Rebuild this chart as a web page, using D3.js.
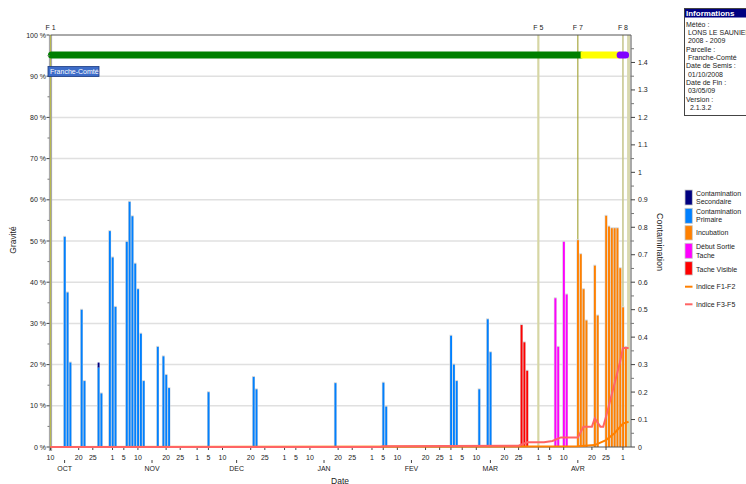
<!DOCTYPE html>
<html><head><meta charset="utf-8">
<script src="https://cdn.jsdelivr.net/npm/d3@7"></script>
<style>
body{margin:0;background:#fff}
svg{display:block;font-family:"Liberation Sans",Arial,sans-serif}
</style>
</head><body>
<svg id="c" width="746" height="484"></svg>
<script>
// ---------------- DATA ----------------
const stageNames = ["Contamination Secondaire","Contamination Primaire","Incubation","Début Sortie Tache","Tache Visible"];
const stageColors = ["#000080","#0080ff","#ff8000","#ff00ff","#ff0000"];

// daily severity bars (Gravité, %)
const barDates = [
  "2008-10-15","2008-10-16","2008-10-17","2008-10-21","2008-10-22","2008-10-27","2008-10-28",
  "2008-10-31","2008-11-01","2008-11-02","2008-11-06","2008-11-07","2008-11-08","2008-11-09",
  "2008-11-10","2008-11-11","2008-11-12","2008-11-17","2008-11-19","2008-11-20","2008-11-21",
  "2008-12-05","2008-12-21","2008-12-22","2009-01-19","2009-02-05","2009-02-06",
  "2009-03-01","2009-03-02","2009-03-03","2009-03-11","2009-03-14","2009-03-15",
  "2009-03-26","2009-03-27","2009-03-28",
  "2009-04-07","2009-04-08","2009-04-10","2009-04-11",
  "2009-04-15","2009-04-16","2009-04-17","2009-04-18","2009-04-21","2009-04-22",
  "2009-04-25","2009-04-26","2009-04-27","2009-04-28","2009-04-29","2009-04-30","2009-05-01","2009-05-02"
];
const barValues = [
  51,37.5,20.5,33.3,16,19.3,13,
  52.4,46,34,49.8,59.5,56,44.5,
  38.3,27.5,16,24.3,22,17.5,14.3,
  13.3,17,14,15.5,15.6,9.8,
  27,20,16,14,31,23,
  29.6,25.4,18.5,
  36.1,24.3,49.8,37,
  50.2,46.8,38.3,30.7,44,31.9,
  56.1,53.5,53.1,53.1,53.1,43.4,33.9,24.3
];
const barStages = [
  1,1,1,1,1,1,1,
  1,1,1,1,1,1,1,
  1,1,1,1,1,1,1,
  1,1,1,1,1,1,
  1,1,1,1,1,1,
  4,4,4,
  3,3,3,3,
  2,2,2,2,2,2,
  2,2,2,2,2,2,2,2
];
// secondary contamination stacked on top of primary
const secDates = ["2008-10-27"];
const secValues = [1.2];

// contamination indices (right axis)
const f12Dates  = ["2008-10-10","2009-03-25","2009-04-15","2009-04-21","2009-04-25","2009-04-28","2009-05-01","2009-05-03"];
const f12Values = [0,0.002,0.003,0.007,0.025,0.05,0.085,0.092];
const f35Dates  = ["2008-10-10","2009-02-04","2009-02-05","2009-03-25","2009-03-28","2009-04-03","2009-04-06","2009-04-09",
                   "2009-04-15","2009-04-17","2009-04-20","2009-04-21","2009-04-23","2009-04-24","2009-04-25","2009-04-26",
                   "2009-04-27","2009-04-28","2009-04-29","2009-04-30","2009-05-01","2009-05-03"];
const f35Values = [0,0,0.003,0.005,0.017,0.017,0.022,0.035,
                   0.035,0.074,0.074,0.104,0.074,0.074,0.11,0.15,
                   0.19,0.23,0.27,0.31,0.36,0.36];

// phase band
const phaseStarts = ["2008-10-10","2009-04-16","2009-04-30"];
const phaseEnds   = ["2009-04-16","2009-04-30","2009-05-03"];
const phaseColors = ["#008000","#ffff00","#8000ff"];

// stage markers
const fLabels = ["F 1","F 5","F 7","F 8",""];
const fDates  = ["2008-10-10","2009-04-01","2009-04-15","2009-05-01","2009-05-03"];
const fColors = ["#b8b850","#d6d6a4","#a8a840","#c8c890","#d8d8b0"];
const fWidths = [1,2.2,1.2,1.6,3];

// ticks
const leftTicks = [0,10,20,30,40,50,60,70,80,90,100];
const rightTicks = [0,0.1,0.2,0.3,0.4,0.5,0.6,0.7,0.8,0.9,1,1.1,1.2,1.3,1.4];
const tickDays = [1,5,10,20,25];
const monthLabels = ["OCT","NOV","DEC","JAN","FEV","MAR","AVR"];
const monthDates = ["2008-10-15","2008-11-15","2008-12-15","2009-01-15","2009-02-15","2009-03-15","2009-04-15"];

const infoLines = ["Météo :"," LONS LE SAUNIER"," 2008 - 2009","Parcelle :"," Franche-Comté","Date de Semis :"," 01/10/2008","Date de Fin :"," 03/05/09","Version :","  2.1.3.2"];
const legendLabels = [["Contamination","Secondaire"],["Contamination","Primaire"],["Incubation"],["Début Sortie","Tache"],["Tache Visible"],["Indice F1-F2"],["Indice F3-F5"]];
const lineColors = ["#ff8000","#ff6464"];
const parcelLabel = "Franche-Comté";

// ---------------- DRAW ----------------
const P = d3.utcParse("%Y-%m-%d");
const svg = d3.select("#c");
const L = 50.5, R = 631, T = 35, B = 447;
const x = d3.scaleUtc().domain([P("2008-10-10"), P("2009-05-04")]).range([L, 631.4]);
const y = d3.scaleLinear().domain([0,100]).range([B,T]);
const yR = d3.scaleLinear().domain([0,1.5]).range([B,T]);
const dayW = x(P("2008-10-11")) - x(P("2008-10-10"));
const ink = "#222";

// gridlines
svg.append("g").selectAll("line").data(leftTicks.filter(v=>v>0&&v<100)).join("line")
  .attr("x1",L).attr("x2",R).attr("y1",d=>y(d)).attr("y2",d=>y(d))
  .attr("stroke","#e0e0e0").attr("stroke-width",1.5);

// F marker lines
svg.append("g").selectAll("line").data(fDates.slice(1)).join("line")
  .attr("x1",d=>x(P(d))).attr("x2",d=>x(P(d))).attr("y1",T).attr("y2",B)
  .attr("stroke",(d,i)=>fColors[i+1]).attr("stroke-width",(d,i)=>fWidths[i+1]);
svg.append("g").selectAll("text").data(fLabels).join("text")
  .attr("x",(d,i)=>x(P(fDates[i]))).attr("y",30).attr("text-anchor","middle")
  .attr("font-size",7).attr("fill",ink).text(d=>d);

// bars
const bars = barDates.map((d,i)=>({date:P(d),v:barValues[i],s:barStages[i]}));
const gb = svg.append("g");
gb.selectAll("rect.h").data(bars).join("rect").attr("class","h")
  .attr("x",d=>x(d.date)-dayW/2).attr("width",dayW)
  .attr("y",d=>y(d.v)-1).attr("height",d=>B-y(d.v)+1)
  .attr("fill","#d8d8d8");
gb.selectAll("rect.b").data(bars).join("rect").attr("class","b")
  .attr("x",d=>x(d.date)-dayW/2+0.6).attr("width",dayW-0.9)
  .attr("y",d=>y(d.v)).attr("height",d=>B-y(d.v))
  .attr("fill",d=>stageColors[d.s]);
const secs = secDates.map((d,i)=>{const b=bars.find(q=>+q.date===+P(d));return {date:P(d),base:b?b.v:0,v:secValues[i]};});
gb.selectAll("rect.s").data(secs).join("rect").attr("class","s")
  .attr("x",d=>x(d.date)-dayW/2+0.6).attr("width",dayW-0.9)
  .attr("y",d=>y(d.base+d.v)).attr("height",d=>y(d.base)-y(d.base+d.v))
  .attr("fill",stageColors[0]);

// left axis
svg.append("line").attr("x1",L).attr("x2",L).attr("y1",T).attr("y2",B+4).attr("stroke","#a8a8a8").attr("stroke-width",3.2);
svg.append("line").attr("x1",L).attr("x2",L).attr("y1",T).attr("y2",B).attr("stroke",fColors[0]).attr("stroke-width",fWidths[0]);
svg.append("line").attr("x1",L).attr("x2",R).attr("y1",T).attr("y2",T).attr("stroke","#555").attr("stroke-width",1);

// phase band
const gp = svg.append("g");
phaseStarts.forEach((s,i)=>{
  gp.append("line").attr("x1",x(P(s))+(i==0?1:0)).attr("x2",x(P(phaseEnds[i]))-(i==2?3:0))
    .attr("y1",55).attr("y2",55).attr("stroke",phaseColors[i]).attr("stroke-width",7)
    .attr("stroke-linecap",(i==1)?"butt":"round");
});

const gl = svg.append("g");
gl.selectAll("line.mj").data(leftTicks).join("line").attr("class","mj")
  .attr("x1",L-4).attr("x2",L-1).attr("y1",d=>y(d)).attr("y2",d=>y(d)).attr("stroke","#444");
gl.selectAll("line.mn").data(leftTicks.slice(0,-1).map(v=>v+5)).join("line").attr("class","mn")
  .attr("x1",L-3).attr("x2",L-1).attr("y1",d=>y(d)).attr("y2",d=>y(d)).attr("stroke","#777");
gl.selectAll("text").data(leftTicks).join("text")
  .attr("x",L-4.5).attr("y",d=>y(d)+2.5).attr("text-anchor","end").attr("font-size",7).attr("fill",ink)
  .text(d=>d+" %");
svg.append("text").attr("transform","translate(16,240) rotate(-90)").attr("text-anchor","middle")
  .attr("font-size",8.5).attr("fill",ink).text("Gravité");

// right axis
svg.append("line").attr("x1",R).attr("x2",R).attr("y1",T).attr("y2",B).attr("stroke","#555").attr("stroke-width",1);
const gr = svg.append("g");
gr.selectAll("line.mj").data(rightTicks).join("line").attr("class","mj")
  .attr("x1",R).attr("x2",R+4).attr("y1",d=>yR(d)).attr("y2",d=>yR(d)).attr("stroke","#444");
gr.selectAll("line.mn").data(rightTicks.map(v=>v+0.05)).join("line").attr("class","mn")
  .attr("x1",R).attr("x2",R+3).attr("y1",d=>yR(d)).attr("y2",d=>yR(d)).attr("stroke","#777");
gr.selectAll("text").data(rightTicks).join("text")
  .attr("x",R+7).attr("y",d=>yR(d)+2.5).attr("font-size",7).attr("fill",ink)
  .text(d=>d3.format("~g")(d));
svg.append("text").attr("transform","translate(657,242) rotate(90)").attr("text-anchor","middle")
  .attr("font-size",9).attr("fill",ink).text("Contamination");

// x axis
svg.append("line").attr("x1",L).attr("x2",R).attr("y1",B).attr("y2",B).attr("stroke","#555");
const tickDates = [];
d3.utcMonths(P("2008-10-01"), P("2009-06-01")).forEach(m=>{
  tickDays.forEach(dd=>{const t=new Date(Date.UTC(m.getUTCFullYear(),m.getUTCMonth(),dd));
    if(t>=P("2008-10-10") && t<=P("2009-05-03")) tickDates.push(t);});
});
const gx = svg.append("g");
gx.selectAll("line").data(tickDates).join("line")
  .attr("x1",d=>x(d)).attr("x2",d=>x(d)).attr("y1",B).attr("y2",B+3).attr("stroke","#444");
gx.selectAll("text").data(tickDates).join("text")
  .attr("x",d=>x(d)).attr("y",459.5).attr("text-anchor","middle").attr("font-size",7).attr("fill",ink)
  .text(d=>d.getUTCDate());
const gm = svg.append("g");
gm.selectAll("line").data(monthDates).join("line")
  .attr("x1",d=>x(P(d))).attr("x2",d=>x(P(d))).attr("y1",460).attr("y2",463).attr("stroke","#444");
gm.selectAll("text").data(monthLabels).join("text")
  .attr("x",(d,i)=>x(P(monthDates[i]))).attr("y",470.5).attr("text-anchor","middle").attr("font-size",7).attr("fill",ink)
  .text(d=>d);
svg.append("text").attr("x",340).attr("y",483.5).attr("text-anchor","middle").attr("font-size",8.5).attr("fill",ink).text("Date");

// index lines
const line = d3.line().x(d=>x(d[0])).y(d=>yR(d[1]));
svg.append("path").datum(f12Dates.map((d,i)=>[P(d),f12Values[i]])).attr("d",line)
  .attr("fill","none").attr("stroke",lineColors[0]).attr("stroke-width",2);
svg.append("path").datum(f35Dates.map((d,i)=>[P(d),f35Values[i]])).attr("d",line)
  .attr("fill","none").attr("stroke",lineColors[1]).attr("stroke-width",2);

// parcel label
const pl = svg.append("g");
pl.append("rect").attr("x",48).attr("y",66.5).attr("width",51).attr("height",10)
  .attr("fill","#3d6cc8").attr("stroke","#1a3a80").attr("stroke-width",0.8);
pl.append("text").attr("x",50).attr("y",74.3).attr("font-size",7).attr("fill","#fff").text(parcelLabel);

// info box
const ib = svg.append("g");
ib.append("rect").attr("x",684.5).attr("y",8.5).attr("width",80).attr("height",107).attr("fill","#fff").attr("stroke","#444");
ib.append("rect").attr("x",685).attr("y",9).attr("width",80).attr("height",8.5).attr("fill","#000080");
ib.append("text").attr("x",686).attr("y",16.3).attr("font-size",8).attr("font-weight","bold").attr("fill","#fff").text("Informations");
ib.selectAll("text.l").data(infoLines).join("text").attr("class","l")
  .attr("x",686).attr("y",(d,i)=>26.5+i*8.35).attr("font-size",7).attr("fill",ink)
  .attr("xml:space","preserve").style("white-space","pre").text(d=>d);

// legend
const lg = svg.append("g");
const sqY = [190,208.3,225.7,243.3,261.7];
const sqH = [15,15,14.3,15,13.3];
stageColors.forEach((c,i)=>{
  lg.append("rect").attr("x",685).attr("y",sqY[i]).attr("width",7.3).attr("height",sqH[i])
    .attr("fill",c).attr("stroke","#c8c8c8").attr("stroke-width",0.8);
});
const txtY = [[195.8,204.2],[214.2,221.8],[235.2],[249.2,258.2],[271.5],[288.5],[306.5]];
legendLabels.forEach((ls,i)=>{
  ls.forEach((t,j)=>lg.append("text").attr("x",696).attr("y",txtY[i][j]).attr("font-size",7).attr("fill",ink).text(t));
});
lineColors.forEach((c,i)=>{
  const yy = [286.7,304.3][i];
  lg.append("line").attr("x1",685).attr("x2",692.5).attr("y1",yy).attr("y2",yy).attr("stroke",c).attr("stroke-width",2);
});
</script>
</body></html>
